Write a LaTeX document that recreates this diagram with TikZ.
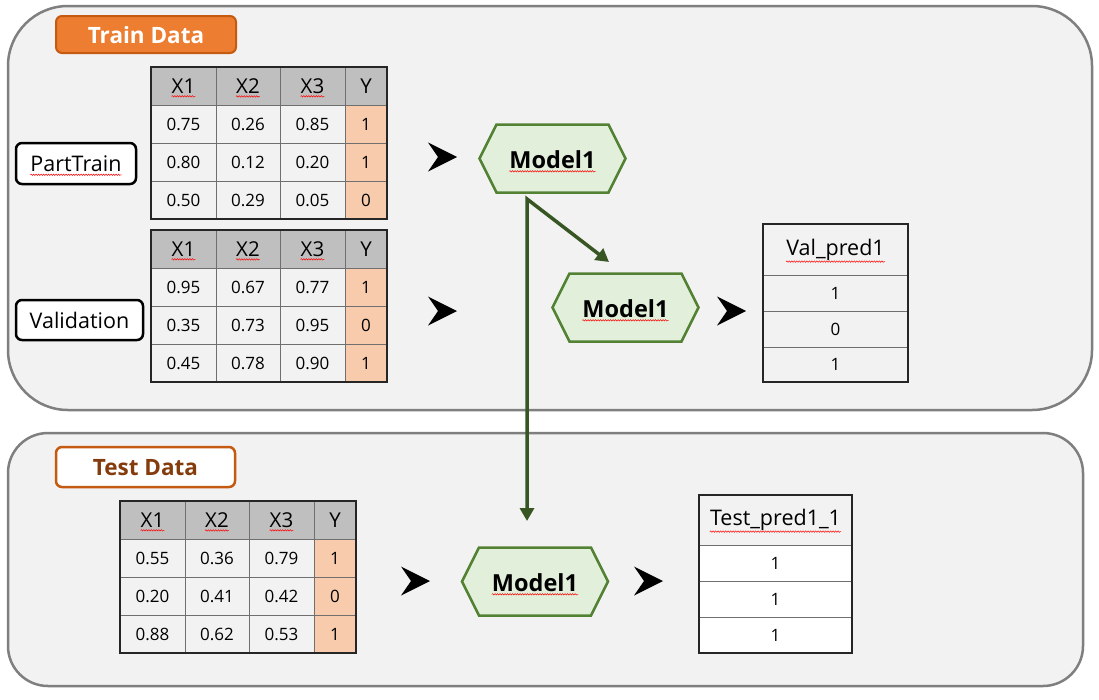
\documentclass[tikz,border=0pt]{standalone}
\usepackage{fontspec}
\setmainfont{Open Sans}
\usetikzlibrary{arrows.meta,decorations.pathmorphing}
\definecolor{panel}{HTML}{F2F2F2}
\definecolor{panelline}{HTML}{7F7F7F}
\definecolor{hdrgray}{HTML}{BFBFBF}
\definecolor{cellgray}{HTML}{F2F2F2}
\definecolor{ycell}{HTML}{F8CBAD}
\definecolor{orangefill}{HTML}{ED7D31}
\definecolor{orangeline}{HTML}{C55A11}
\definecolor{browntext}{HTML}{843C0C}
\definecolor{hexfill}{HTML}{E2EFDA}
\definecolor{hexline}{HTML}{548235}
\definecolor{connline}{HTML}{375623}
\definecolor{gridline}{HTML}{6F6F6F}
\tikzset{
  panelbox/.style={fill=panel, draw=panelline, line width=2.5pt},
  cellline/.style={draw=gridline, line width=0.9pt},
  tabframe/.style={draw=black!85, line width=1.6pt},
  hdrtxt/.style={inner sep=0pt, font=\fontsize{20.5}{24}\selectfont},
  celltxt/.style={inner sep=0pt, font=\fontsize{17}{20}\selectfont},
  wavy/.style={draw=red, line width=0.5pt, decorate, decoration={snake, amplitude=0.7pt, segment length=2.5pt}},
  chevron/.style={fill=black},
  hexbox/.style={fill=hexfill, draw=hexline, line width=2.5pt, line join=miter},
  modeltxt/.style={inner sep=0pt, font=\bfseries\fontsize{23.5}{28}\selectfont},
  conn/.style={draw=connline, line width=3.5pt, line join=miter,
    arrows={Triangle[width=14pt,length=13pt]-Triangle[width=14pt,length=13pt]}},
  labbox/.style={draw=black, line width=2.5pt, fill=white, rounded corners=6pt},
  labtxt/.style={inner sep=0pt, font=\fontsize{21.5}{26}\selectfont},
  titletxt/.style={inner sep=0pt, font=\bfseries\fontsize{22.5}{27}\selectfont},
}
\newcommand{\datatab}[4]{%
  \begin{scope}[shift={(#2,#3)}]
    \foreach \xa/\xb/\lab [count=\c] in {0/65/X1,65/129/X2,129/194/X3,194/236/Y}{
      \draw[cellline, fill=hdrgray] (\xa,0) rectangle (\xb,38);
      \node[hdrtxt] (#1-h\c) at ({(\xa+\xb)/2},19) {\lab};
    }
    \foreach \c in {1,2,3}{
      \draw[wavy] ([yshift=-3pt]#1-h\c.base west) -- ([yshift=-3pt]#1-h\c.base east);
    }
    \foreach \va/\vb/\vc/\vy [count=\r] in {#4}{
      \draw[cellline, fill=cellgray] (0,38*\r) rectangle (65,38*\r+38);
      \draw[cellline, fill=cellgray] (65,38*\r) rectangle (129,38*\r+38);
      \draw[cellline, fill=cellgray] (129,38*\r) rectangle (194,38*\r+38);
      \draw[cellline, fill=ycell] (194,38*\r) rectangle (236,38*\r+38);
      \node[celltxt] (#1-\r-1) at (32.5,38*\r+19) {\va};
      \node[celltxt] (#1-\r-2) at (97,38*\r+19) {\vb};
      \node[celltxt] (#1-\r-3) at (161.5,38*\r+19) {\vc};
      \node[celltxt] (#1-\r-4) at (215,38*\r+19) {\vy};
    }
    \draw[tabframe] (0,0) rectangle (236,152);
  \end{scope}}
\newcommand{\modelhex}[3]{%
  \draw[hexbox] (#2-73,#3) -- (#2-56,#3-34) -- (#2+56,#3-34) -- (#2+73,#3)
     -- (#2+56,#3+34) -- (#2-56,#3+34) -- cycle;
  \node[modeltxt] (#1) at (#2,#3+1) {Model1};
  \draw[wavy] ([yshift=-3pt]#1.base west) -- ([yshift=-3pt]#1.base east);}
\newcommand{\chev}[2]{%
  \fill[chevron] (#1,#2-14.5) -- (#1+29,#2) -- (#1,#2+14.5) -- (#1+10,#2) -- cycle;}
\begin{document}
\begin{tikzpicture}[x=1pt,y=-1pt]
\useasboundingbox (0,0) rectangle (1099,699);
\fill[white] (0,0) rectangle (1099,699);
% panels
\draw[panelbox, rounded corners=60pt] (8,6) rectangle (1092,410);
\draw[panelbox, rounded corners=40pt] (8,433) rectangle (1083,686);
% titles
\draw[fill=orangefill, draw=orangeline, line width=2pt, rounded corners=6pt] (56,16) rectangle (236,53);
\node[titletxt, text=white] (traint) at (146,35) {Train Data};
\draw[fill=white, draw=orangeline, line width=2.5pt, rounded corners=6pt] (56,447) rectangle (235,487);
\node[titletxt, text=browntext] (testt) at (145.5,467.5) {Test Data};
% side labels
\draw[labbox] (16,143) rectangle (136,184);
\node[labtxt] (pt) at (76,164) {PartTrain};
\draw[wavy] ([yshift=-3pt]pt.base west) -- ([yshift=-3pt]pt.base east);
\draw[labbox] (16,300) rectangle (143,340);
\node[labtxt] (val) at (79.5,320) {Validation};
% data tables
\datatab{ta}{151}{67}{0.75/0.26/0.85/1,0.80/0.12/0.20/1,0.50/0.29/0.05/0}
\datatab{tb}{151}{230}{0.95/0.67/0.77/1,0.35/0.73/0.95/0,0.45/0.78/0.90/1}
\datatab{tc}{120}{501}{0.55/0.36/0.79/1,0.20/0.41/0.42/0,0.88/0.62/0.53/1}
% chevrons
\chev{428}{157}
\chev{428}{311}
\chev{717}{311}
\chev{401}{581}
\chev{634}{581}
% models
\modelhex{ma}{552.5}{158.5}
\modelhex{mb}{625.5}{307.5}
\modelhex{mc}{535}{581.5}
% green connectors
\coordinate (split) at (527,199);
\coordinate (d1) at (609,262);
\coordinate (d2) at (527,521);
\draw[conn] (d1) -- (split) -- (d2);
% Val_pred1 table
\draw[cellline, fill=panel] (763,224) rectangle (908,275);
\draw[cellline, fill=panel] (763,275) rectangle (908,311);
\draw[cellline, fill=panel] (763,311) rectangle (908,347);
\draw[cellline, fill=panel] (763,347) rectangle (908,382);
\draw[tabframe] (763,224) rectangle (908,382);
\node[labtxt] (vp) at (835.5,250) {Val\_pred1};
\draw[wavy] ([yshift=-6pt]vp.base west) -- ([yshift=-6pt]vp.base east);
\node[celltxt] (vp1) at (835.5,293) {1};
\node[celltxt] (vp2) at (835.5,329) {0};
\node[celltxt] (vp3) at (835.5,364.5) {1};
% Test_pred1_1 table
\draw[cellline, fill=panel] (699,495) rectangle (852,545);
\draw[cellline, fill=white] (699,545) rectangle (852,581);
\draw[cellline, fill=white] (699,581) rectangle (852,617);
\draw[cellline, fill=white] (699,617) rectangle (852,653);
\draw[tabframe] (699,495) rectangle (852,653);
\node[labtxt] (tp) at (775.5,520) {Test\_pred1\_1};
\draw[wavy] ([yshift=-6pt]tp.base west) -- ([yshift=-6pt]tp.base east);
\node[celltxt] (tp1) at (775.5,563) {1};
\node[celltxt] (tp2) at (775.5,599) {1};
\node[celltxt] (tp3) at (775.5,635) {1};
\end{tikzpicture}
\end{document}
